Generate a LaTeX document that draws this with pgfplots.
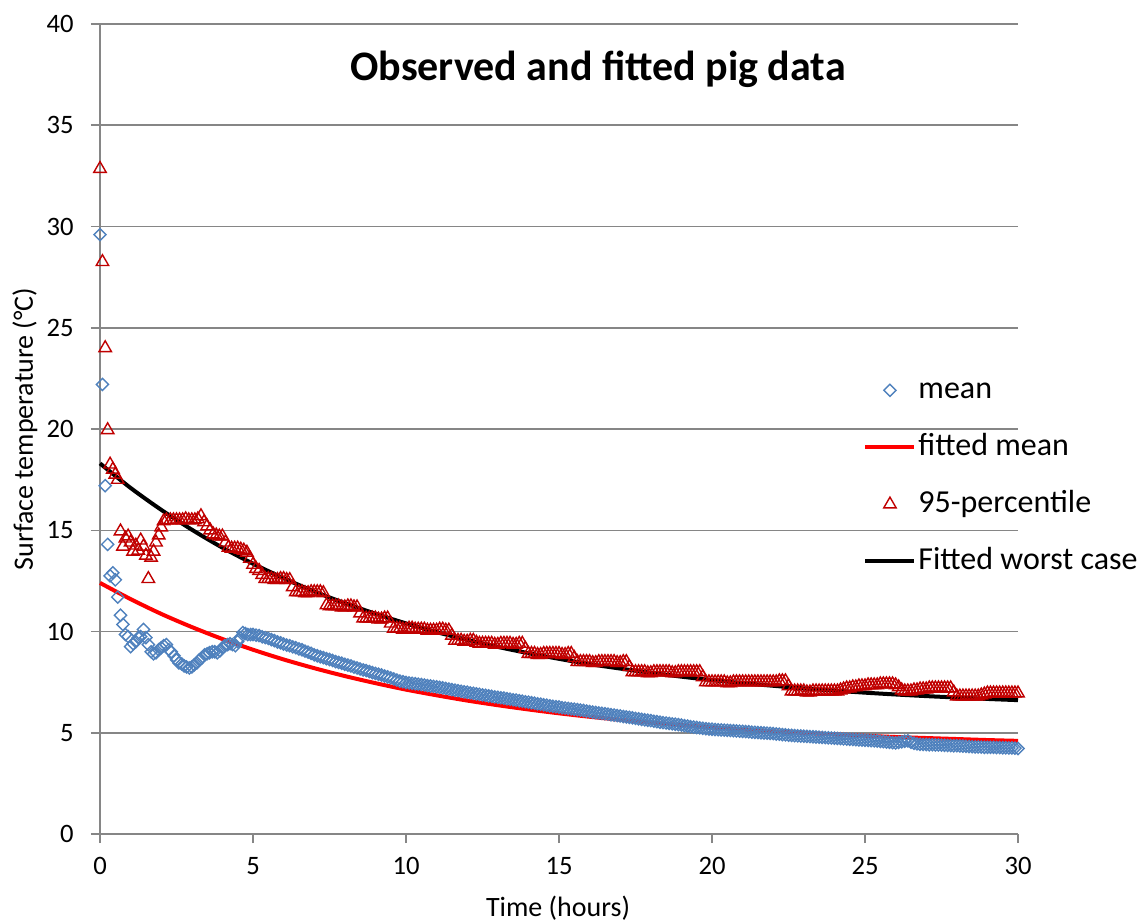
\documentclass[border=0pt]{standalone}
\usepackage{pgfplots}
\pgfplotsset{compat=1.18}
\usepackage{fontspec}
\setmainfont{Carlito}
\definecolor{meanblue}{HTML}{4F81BD}
\definecolor{pctred}{HTML}{C00000}
\definecolor{axgray}{HTML}{868686}

\begin{document}
\begin{tikzpicture}
\useasboundingbox (-50pt,-44pt) rectangle (520pt,417pt);
\begin{axis}[
  scale only axis,
  width=459pt, height=405pt,
  xmin=0, xmax=30, ymin=0, ymax=40,
  xtick={0,5,...,30}, ytick={0,5,...,40},
  axis x line*=bottom, axis y line*=left,
  axis line style={axgray, line width=0.75pt, -},
  ymajorgrids, grid style={axgray, line width=0.75pt},
  tick align=outside, major tick length=4.5pt,
  tick style={axgray, line width=0.75pt},
  /pgf/number format/assume math mode=true,
  ticklabel style={font=\fontsize{13.3}{16}\selectfont},
  yticklabel style={anchor=east, inner sep=0pt, xshift=-8.5pt},
  xticklabel style={anchor=north, inner sep=0pt, yshift=-7pt},
  xlabel={Time (hours)},
  ylabel={Surface temperature (°C)},
  label style={font=\fontsize{14}{17}\selectfont},
  xlabel style={at={(axis description cs:0.499,-0.091)}, anchor=center},
  ylabel style={at={(axis description cs:-0.0817,0.5)}, anchor=center},
  clip=false,
  legend style={at={(axis description cs:0.8312,0.568)}, anchor=north west,
    draw=none, fill=none, inner sep=0pt,
    font=\fontsize{16}{19}\selectfont,
    nodes={text height=12pt, text depth=4pt, inner xsep=1pt, inner ysep=0pt},
    row sep=12.5pt},
  legend cell align=left,
  legend image code/.code={%
    \draw[mark repeat=2,mark phase=2,#1] plot coordinates {(0pt,0pt) (12.25pt,0pt) (24.5pt,0pt)};},
]
% fitted curves (drawn beneath the markers)
\addplot[red, line width=2pt, smooth, forget plot] coordinates {
(0,12.40) (1,11.60) (2,10.87) (3,10.22) (4,9.63) (5,9.10) (6,8.62) (7,8.19) (8,7.80) (9,7.45)
(10,7.13) (11,6.85) (12,6.59) (13,6.36) (14,6.15) (15,5.96) (16,5.79) (17,5.64) (18,5.50) (19,5.38)
(20,5.26) (21,5.16) (22,5.07) (23,4.99) (24,4.92) (25,4.85) (26,4.79) (27,4.74) (28,4.69) (29,4.64) (30,4.60)};
\addplot[black, line width=2pt, smooth, forget plot] coordinates {
(0,18.30) (1,17.09) (2,16.01) (3,15.03) (4,14.14) (5,13.35) (6,12.63) (7,11.98) (8,11.40) (9,10.88)
(10,10.40) (11,9.97) (12,9.59) (13,9.24) (14,8.93) (15,8.65) (16,8.39) (17,8.17) (18,7.96) (19,7.77)
(20,7.60) (21,7.45) (22,7.32) (23,7.19) (24,7.08) (25,6.98) (26,6.89) (27,6.81) (28,6.74) (29,6.67) (30,6.61)};

% mean
\addplot[only marks, mark=square, mark size=2.15pt,
  mark options={rotate=45, draw=meanblue, line width=0.7pt, fill=none}] coordinates {
(0.00,29.6) (0.08,22.2) (0.17,17.2) (0.25,14.3) (0.33,12.75) (0.42,12.9) (0.50,12.55) (0.58,11.7)
(0.67,10.8) (0.75,10.35) (0.83,9.85) (0.92,9.75) (1.00,9.25) (1.08,9.4) (1.17,9.5) (1.25,9.7)
(1.33,9.75) (1.42,10.1) (1.50,9.7) (1.58,9.35) (1.67,9.0) (1.75,8.9) (1.83,8.95) (1.92,9.1)
(2.00,9.2) (2.08,9.3) (2.17,9.35) (2.25,9.1) (2.33,9.0) (2.42,8.8) (2.50,8.6) (2.58,8.45)
(2.67,8.4) (2.75,8.3) (2.83,8.25) (2.92,8.2) (3.00,8.25) (3.08,8.35) (3.17,8.45) (3.25,8.6)
(3.33,8.7) (3.42,8.85) (3.50,8.9) (3.58,8.95) (3.67,9.0) (3.75,9.0) (3.83,8.95) (3.92,9.05)
(4.00,9.2) (4.08,9.3) (4.17,9.35) (4.25,9.4) (4.33,9.35) (4.42,9.3) (4.50,9.5) (4.58,9.7)
(4.67,9.95) (4.75,9.9) (4.83,9.85) (4.92,9.85)
(5.0,9.85) (5.1,9.82) (5.2,9.8) (5.3,9.74) (5.4,9.7) (5.5,9.66) (5.6,9.6) (5.7,9.55) (5.8,9.48) (5.9,9.44)
(6.0,9.38) (6.1,9.33) (6.2,9.3) (6.3,9.24) (6.4,9.2) (6.5,9.14) (6.6,9.1) (6.7,9.03) (6.8,8.98) (6.9,8.92)
(7.0,8.85) (7.1,8.8) (7.2,8.75) (7.3,8.71) (7.4,8.66) (7.5,8.62) (7.6,8.57) (7.7,8.51) (7.8,8.47) (7.9,8.43)
(8.0,8.38) (8.1,8.34) (8.2,8.3) (8.3,8.24) (8.4,8.2) (8.5,8.15) (8.6,8.1) (8.7,8.07) (8.8,8.02) (8.9,7.97)
(9.0,7.93) (9.1,7.89) (9.2,7.85) (9.3,7.8) (9.4,7.76) (9.5,7.71) (9.6,7.66) (9.7,7.6) (9.8,7.55) (9.9,7.52)
(10.0,7.48) (10.1,7.46) (10.2,7.44) (10.3,7.42) (10.4,7.4) (10.5,7.38) (10.6,7.36) (10.7,7.33) (10.8,7.31) (10.9,7.29)
(11.0,7.27) (11.1,7.24) (11.2,7.22) (11.3,7.19) (11.4,7.16) (11.5,7.13) (11.6,7.1) (11.7,7.08) (11.8,7.05) (11.9,7.02)
(12.0,7.0) (12.1,6.97) (12.2,6.95) (12.3,6.92) (12.4,6.9) (12.5,6.87) (12.6,6.85) (12.7,6.82) (12.8,6.8) (12.9,6.77)
(13.0,6.75) (13.1,6.73) (13.2,6.71) (13.3,6.68) (13.4,6.66) (13.5,6.63) (13.6,6.61) (13.7,6.58) (13.8,6.56) (13.9,6.53)
(14.0,6.51) (14.1,6.48) (14.2,6.46) (14.3,6.43) (14.4,6.41) (14.5,6.38) (14.6,6.36) (14.7,6.33) (14.8,6.31) (14.9,6.29)
(15.0,6.27) (15.1,6.24) (15.2,6.22) (15.3,6.2) (15.4,6.18) (15.5,6.16) (15.6,6.14) (15.7,6.12) (15.8,6.1) (15.9,6.07)
(16.0,6.05) (16.1,6.02) (16.2,6.0) (16.3,5.98) (16.4,5.96) (16.5,5.94) (16.6,5.92) (16.7,5.89) (16.8,5.87) (16.9,5.85)
(17.0,5.83) (17.1,5.8) (17.2,5.78) (17.3,5.76) (17.4,5.74) (17.5,5.71) (17.6,5.69) (17.7,5.66) (17.8,5.64) (17.9,5.62)
(18.0,5.6) (18.1,5.57) (18.2,5.55) (18.3,5.52) (18.4,5.5) (18.5,5.48) (18.6,5.46) (18.7,5.44) (18.8,5.42) (18.9,5.4)
(19.0,5.38) (19.1,5.35) (19.2,5.33) (19.3,5.3) (19.4,5.28) (19.5,5.26) (19.6,5.24) (19.7,5.22) (19.8,5.2) (19.9,5.18)
(20.0,5.17) (20.1,5.16) (20.2,5.15) (20.3,5.14) (20.4,5.13) (20.5,5.12) (20.6,5.11) (20.7,5.1) (20.8,5.09) (20.9,5.08)
(21.0,5.07) (21.1,5.06) (21.2,5.05) (21.3,5.03) (21.4,5.02) (21.5,5.01) (21.6,5.0) (21.7,4.99) (21.8,4.98) (21.9,4.97)
(22.0,4.96) (22.1,4.94) (22.2,4.93) (22.3,4.91) (22.4,4.9) (22.5,4.88) (22.6,4.87) (22.7,4.86) (22.8,4.85) (22.9,4.84)
(23.0,4.83) (23.1,4.82) (23.2,4.81) (23.3,4.8) (23.4,4.79) (23.5,4.78) (23.6,4.77) (23.7,4.76) (23.8,4.75) (23.9,4.74)
(24.0,4.73) (24.1,4.72) (24.2,4.71) (24.3,4.7) (24.4,4.69) (24.5,4.68) (24.6,4.67) (24.7,4.66) (24.8,4.65) (24.9,4.64)
(25.0,4.63) (25.1,4.62) (25.2,4.61) (25.3,4.6) (25.4,4.59) (25.5,4.57) (25.6,4.56) (25.7,4.54) (25.8,4.53) (25.9,4.51)
(26.0,4.5) (26.1,4.52) (26.2,4.55) (26.3,4.58) (26.4,4.6) (26.5,4.53) (26.6,4.48) (26.7,4.45) (26.8,4.43) (26.9,4.42)
(27.0,4.42) (27.1,4.41) (27.2,4.41) (27.3,4.4) (27.4,4.4) (27.5,4.39) (27.6,4.38) (27.7,4.37) (27.8,4.37) (27.9,4.36)
(28.0,4.36) (28.1,4.35) (28.2,4.34) (28.3,4.33) (28.4,4.32) (28.5,4.31) (28.6,4.3) (28.7,4.3) (28.8,4.29) (28.9,4.28)
(29.0,4.28) (29.1,4.28) (29.2,4.28) (29.3,4.27) (29.4,4.27) (29.5,4.26) (29.6,4.26) (29.7,4.25) (29.8,4.25) (29.9,4.24)
(30.0,4.22)};
\addlegendentry{mean}
\addlegendimage{red, line width=2pt}
\addlegendentry{fitted mean}

% 95-percentile
\addplot[only marks, mark=triangle, mark size=3.6pt,
  mark options={draw=pctred, line width=0.7pt, fill=none}] coordinates {
(0.00,32.85) (0.08,28.25) (0.17,24.0) (0.25,19.95) (0.33,18.25) (0.42,18.0) (0.50,17.75) (0.58,17.5)
(0.67,14.95) (0.75,14.2) (0.83,14.6) (0.92,14.7) (1.00,14.4) (1.08,13.95) (1.17,14.25) (1.25,14.0)
(1.33,14.5) (1.42,14.2) (1.50,13.75) (1.58,12.6) (1.67,13.65) (1.75,13.95) (1.83,14.4) (1.92,14.75)
(2.00,15.15) (2.08,15.45) (2.17,15.5)
(2.3,15.5) (2.4,15.5) (2.5,15.5) (2.6,15.5) (2.7,15.5) (2.8,15.55) (2.9,15.5) (3.0,15.5) (3.1,15.5) (3.2,15.55)
(3.3,15.7) (3.4,15.4) (3.5,15.2) (3.6,15.0) (3.7,14.8) (3.8,14.75) (3.9,14.7) (4.0,14.7) (4.1,14.4) (4.2,14.15)
(4.3,14.1) (4.4,14.1) (4.5,14.1) (4.6,14.05) (4.7,14.0) (4.8,13.9) (4.9,13.6) (5.0,13.3) (5.1,13.1) (5.2,13.0)
(5.3,12.8) (5.4,12.6) (5.5,12.6) (5.6,12.6) (5.7,12.55) (5.8,12.55) (5.9,12.6) (6.0,12.6) (6.1,12.55) (6.2,12.55)
(6.3,12.2) (6.4,11.95) (6.5,11.95) (6.6,11.95) (6.7,11.9) (6.8,11.9) (6.9,11.95) (7.0,11.95) (7.1,11.95) (7.2,11.95)
(7.3,11.9) (7.4,11.3) (7.5,11.25) (7.6,11.25) (7.7,11.25) (7.8,11.25) (7.9,11.2) (8.0,11.2) (8.1,11.25) (8.2,11.25)
(8.3,11.2) (8.4,11.2) (8.5,10.9) (8.6,10.65) (8.7,10.65) (8.8,10.65) (8.9,10.65) (9.0,10.65) (9.1,10.6) (9.2,10.6)
(9.3,10.65) (9.4,10.65) (9.5,10.4) (9.6,10.15) (9.7,10.15) (9.8,10.15) (9.9,10.1) (10.0,10.1) (10.1,10.15) (10.2,10.15)
(10.3,10.1) (10.4,10.1) (10.5,10.1) (10.6,10.1) (10.7,10.05) (10.8,10.05) (10.9,10.05) (11.0,10.05) (11.1,10.1) (11.2,10.1)
(11.3,10.05) (11.4,10.05) (11.5,9.8) (11.6,9.55) (11.7,9.55) (11.8,9.55) (11.9,9.5) (12.0,9.5) (12.1,9.55) (12.2,9.55)
(12.3,9.45) (12.4,9.4) (12.5,9.4) (12.6,9.4) (12.7,9.4) (12.8,9.4) (12.9,9.35) (13.0,9.35) (13.1,9.4) (13.2,9.4)
(13.3,9.4) (13.4,9.4) (13.5,9.35) (13.6,9.35) (13.7,9.4) (13.8,9.4) (13.9,9.15) (14.0,8.9) (14.1,8.9) (14.2,8.9)
(14.3,8.85) (14.4,8.85) (14.5,8.9) (14.6,8.9) (14.7,8.9) (14.8,8.9) (14.9,8.9) (15.0,8.9) (15.1,8.85) (15.2,8.85)
(15.3,8.9) (15.4,8.9) (15.5,8.7) (15.6,8.5) (15.7,8.5) (15.8,8.5) (15.9,8.5) (16.0,8.5) (16.1,8.45) (16.2,8.45)
(16.3,8.5) (16.4,8.5) (16.5,8.5) (16.6,8.5) (16.7,8.5) (16.8,8.5) (16.9,8.45) (17.0,8.45) (17.1,8.5) (17.2,8.5)
(17.3,8.25) (17.4,8.0) (17.5,8.0) (17.6,8.0) (17.7,8.0) (17.8,8.0) (17.9,7.95) (18.0,7.95) (18.1,8.0) (18.2,8.0)
(18.3,8.0) (18.4,8.0) (18.5,8.0) (18.6,8.0) (18.7,7.95) (18.8,7.95) (18.9,8.0) (19.0,8.0) (19.1,8.0) (19.2,8.0)
(19.3,8.0) (19.4,8.0) (19.5,8.0) (19.6,8.0) (19.7,7.75) (19.8,7.5) (19.9,7.5) (20.0,7.5) (20.1,7.5) (20.2,7.5)
(20.3,7.5) (20.4,7.5) (20.5,7.45) (20.6,7.45) (20.7,7.5) (20.8,7.5) (20.9,7.5) (21.0,7.5) (21.1,7.5) (21.2,7.5)
(21.3,7.5) (21.4,7.5) (21.5,7.5) (21.6,7.5) (21.7,7.5) (21.8,7.5) (21.9,7.5) (22.0,7.5) (22.1,7.5) (22.2,7.55)
(22.3,7.55) (22.4,7.55) (22.5,7.3) (22.6,7.05) (22.7,7.05) (22.8,7.05) (22.9,7.05) (23.0,7.05) (23.1,7.0) (23.2,7.0)
(23.3,7.05) (23.4,7.05) (23.5,7.05) (23.6,7.05) (23.7,7.05) (23.8,7.05) (23.9,7.05) (24.0,7.05) (24.1,7.05) (24.2,7.1)
(24.3,7.15) (24.4,7.2) (24.5,7.2) (24.6,7.25) (24.7,7.25) (24.8,7.3) (24.9,7.3) (25.0,7.3) (25.1,7.35) (25.2,7.35)
(25.3,7.35) (25.4,7.35) (25.5,7.4) (25.6,7.4) (25.7,7.4) (25.8,7.4) (25.9,7.4) (26.0,7.35) (26.1,7.25) (26.2,7.1)
(26.3,7.05) (26.4,7.05) (26.5,7.05) (26.6,7.1) (26.7,7.1) (26.8,7.15) (26.9,7.15) (27.0,7.15) (27.1,7.2) (27.2,7.2)
(27.3,7.2) (27.4,7.2) (27.5,7.2) (27.6,7.2) (27.7,7.2) (27.8,7.2) (27.9,7.0) (28.0,6.8) (28.1,6.8) (28.2,6.8)
(28.3,6.8) (28.4,6.8) (28.5,6.8) (28.6,6.8) (28.7,6.8) (28.8,6.85) (28.9,6.9) (29.0,6.95) (29.1,6.95) (29.2,6.95)
(29.3,6.95) (29.4,6.95) (29.5,6.95) (29.6,6.95) (29.7,6.95) (29.8,6.95) (29.9,6.95) (30.0,6.95)};
\addlegendentry{95-percentile}
\addlegendimage{black, line width=2pt}
\addlegendentry{Fitted worst case}

\node[anchor=base, font=\bfseries\fontsize{21}{25}\selectfont] at (axis description cs:0.5425,0.930) {Observed and fitted pig data};
\end{axis}
\end{tikzpicture}
\end{document}
